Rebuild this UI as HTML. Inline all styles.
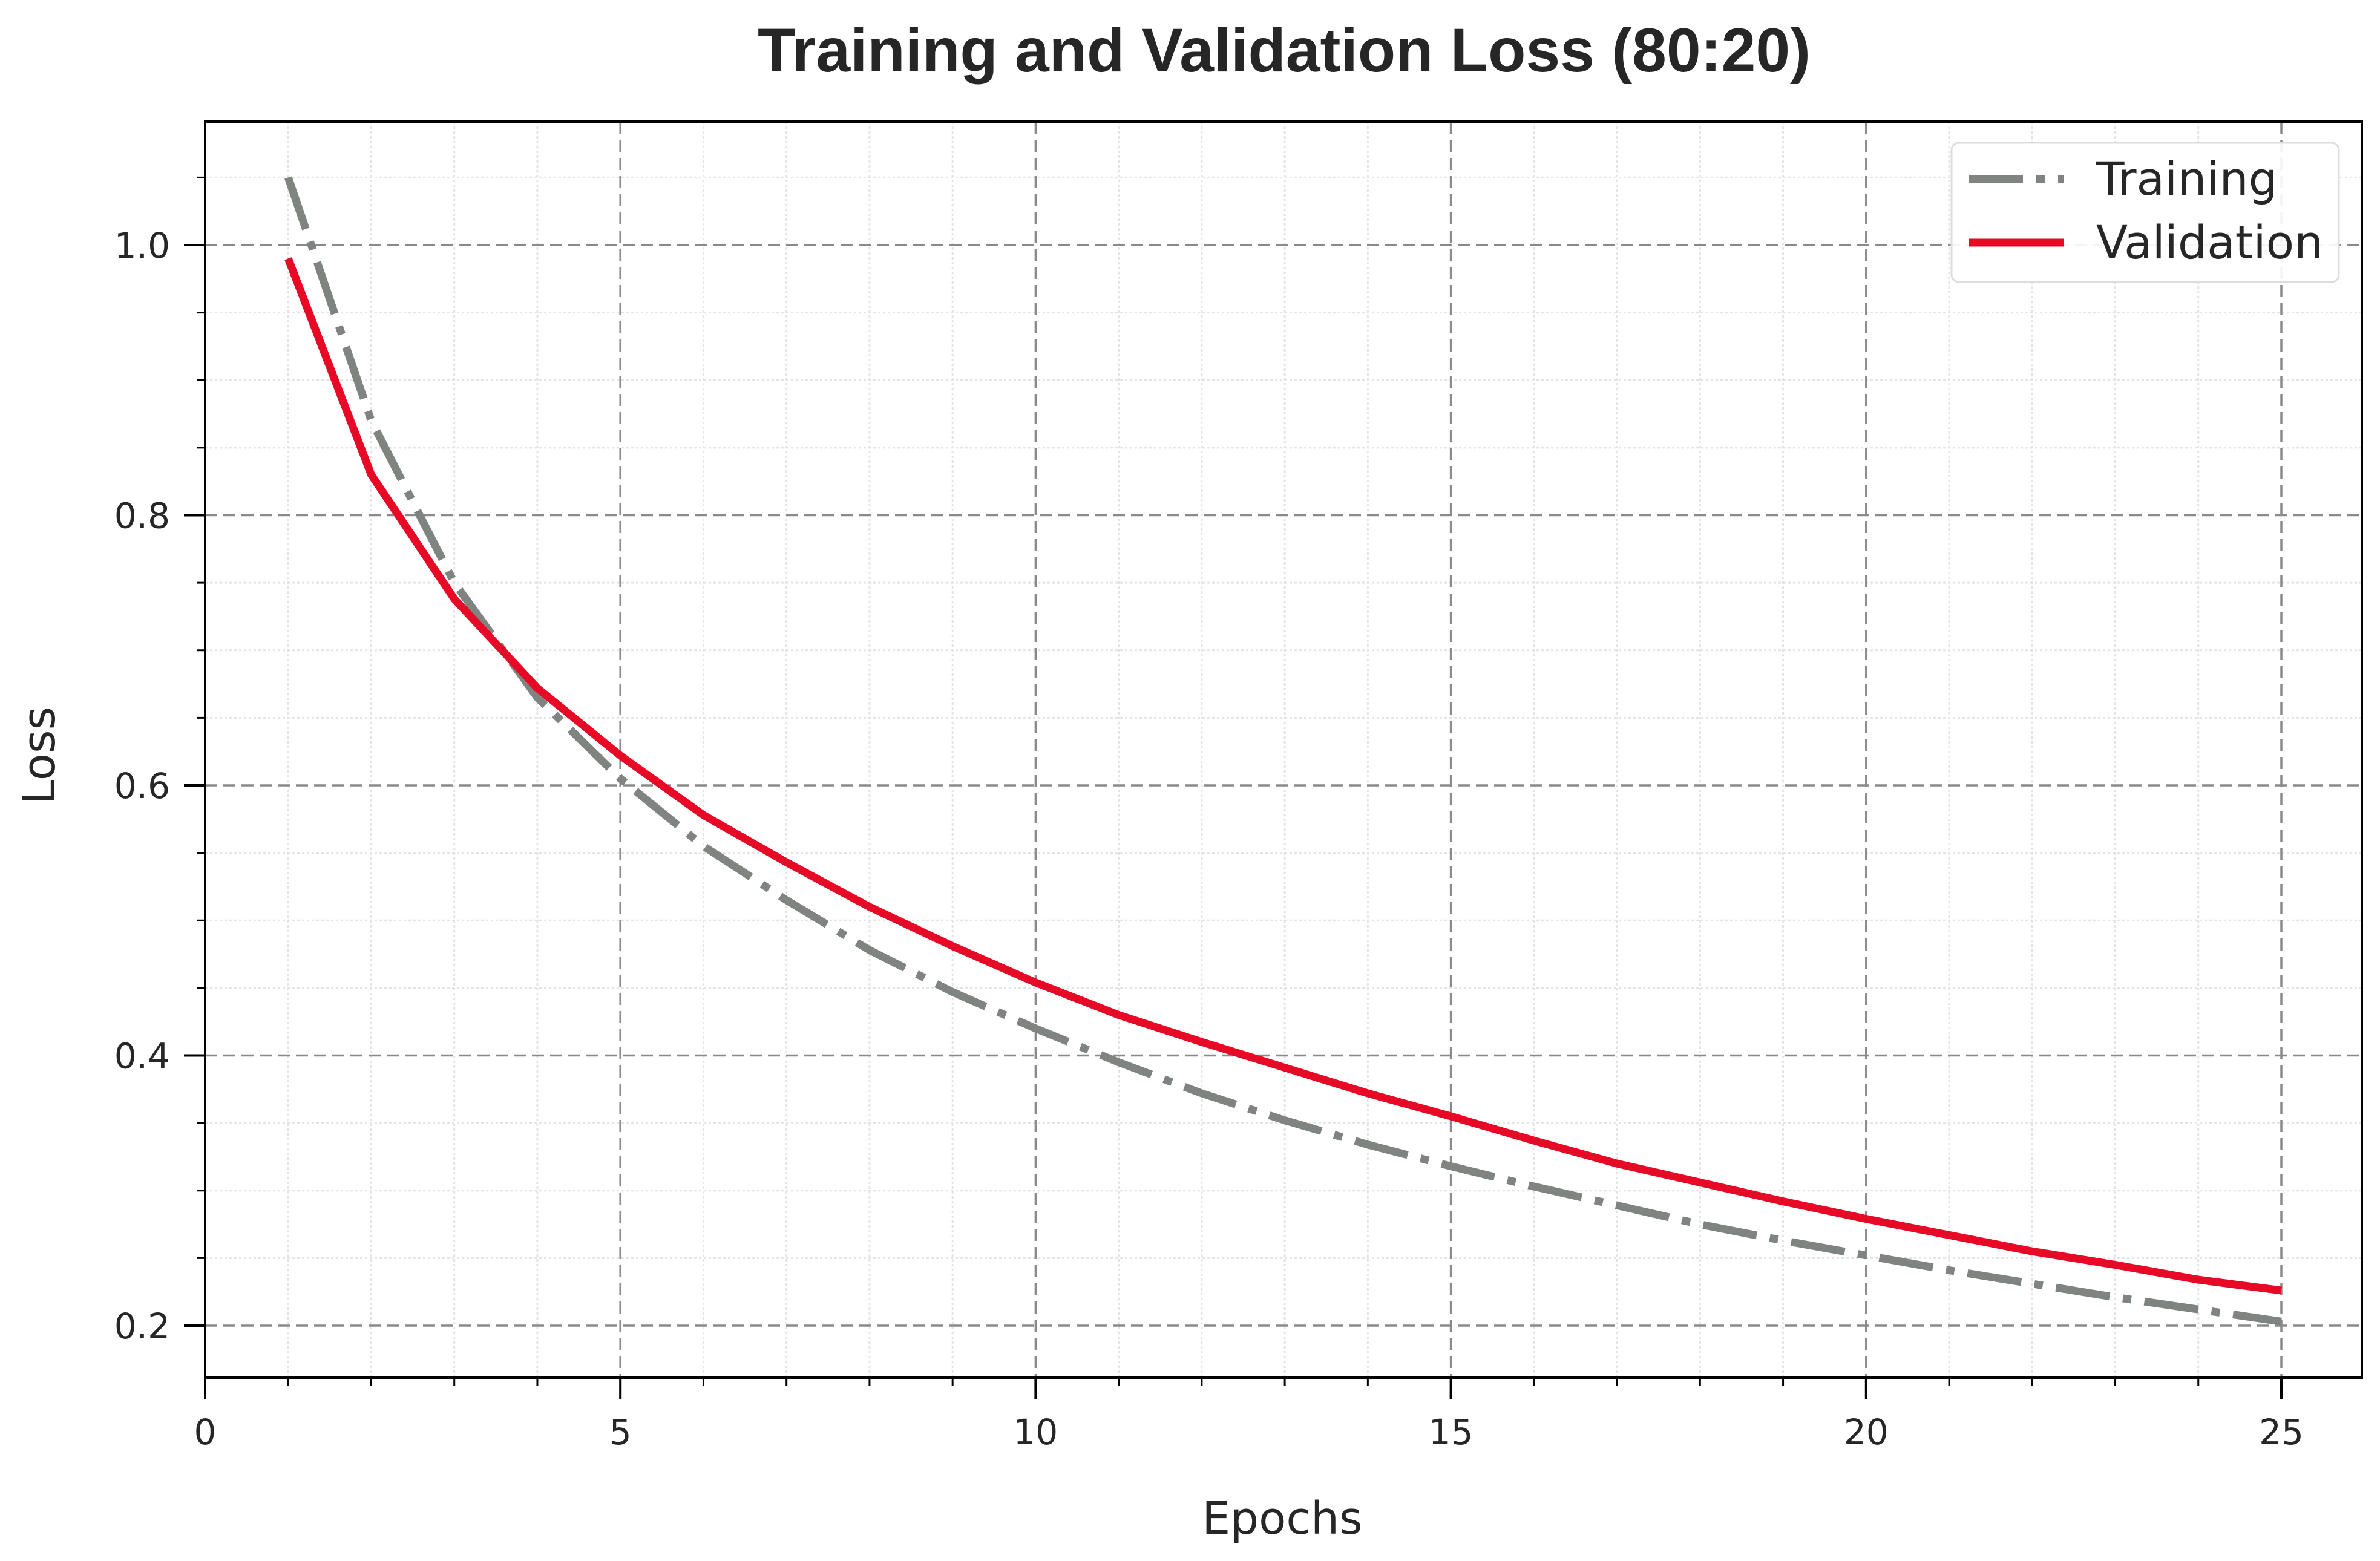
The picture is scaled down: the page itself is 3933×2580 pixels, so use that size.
<!DOCTYPE html>
<html><head><meta charset="utf-8"><style>
html,body{margin:0;padding:0;background:#fff;}
svg{display:block;font-family:"DejaVu Sans","Liberation Sans",sans-serif;}
</style></head><body>
<svg id="chart" width="3933" height="2580" viewBox="0 0 3933 2580" xmlns="http://www.w3.org/2000/svg">
<text x="2122" y="118" text-anchor="middle" font-family="Liberation Sans, sans-serif" font-weight="bold" font-size="102" fill="#262626">Training and Validation Loss (80:20)</text>
<g id="grid"></g><g id="axes"></g><g id="series"></g>
<text x="2119" y="2535" text-anchor="middle" font-size="74" fill="#262626">Epochs</text>
<text x="0" y="0" transform="translate(90,1249) rotate(-90)" text-anchor="middle" font-size="74" fill="#262626">Loss</text>
<g>
<rect x="3225" y="236" width="640" height="230" rx="12" fill="#fff" fill-opacity="0.9" stroke="#ddd" stroke-width="3"/>
<line x1="3253" y1="296" x2="3411" y2="296" stroke="#7f8480" stroke-width="13" stroke-dasharray="90 22 14 22"/>
<text x="3464" y="322" font-size="76" fill="#262626">Training</text>
<line x1="3253" y1="401" x2="3411" y2="401" stroke="#e60a26" stroke-width="13"/>
<text x="3464" y="427" font-size="76" fill="#262626">Validation</text>
</g>
</svg>
<script>
const epochs=[1,2,3,4,5,6,7,8,9,10,11,12,13,14,15,16,17,18,19,20,21,22,23,24,25];
const trainingLoss=[1.05,0.87,0.75,0.665,0.605,0.555,0.515,0.478,0.447,0.42,0.395,0.372,0.352,0.334,0.318,0.303,0.289,0.275,0.263,0.252,0.241,0.231,0.221,0.212,0.203];
const validationLoss=[0.99,0.83,0.738,0.672,0.622,0.578,0.543,0.51,0.481,0.454,0.43,0.41,0.391,0.372,0.355,0.337,0.32,0.306,0.292,0.279,0.267,0.255,0.245,0.234,0.226];
const xTicks=[0,5,10,15,20,25];
const yTicks=[0.2,0.4,0.6,0.8,1.0];
const yTickLabels=["0.2","0.4","0.6","0.8","1.0"];

const L=339,R=3903,T=201,B=2277;
const X=v=>339+v*(3770-339)/25;
const Y=v=>405+(1.0-v)*(2191-405)/0.8;
const NS="http://www.w3.org/2000/svg";
function mk(tag,attrs,parent){const e=document.createElementNS(NS,tag);for(const k in attrs)e.setAttribute(k,attrs[k]);parent.appendChild(e);return e;}
const grid=document.getElementById('grid'),axes=document.getElementById('axes'),series=document.getElementById('series');
for(let i=1;i<=26;i++){const x=X(i);if(x>=R)break;if(i%5===0)continue;
 const g=mk('line',{x1:x,y1:T,x2:x,y2:B,stroke:'#e4e4e4','stroke-width':3,'stroke-dasharray':'4 4'},grid);
 
 
 const t=mk('line',{x1:x,y1:B,x2:x,y2:B+14,stroke:'#000','stroke-width':3},axes);
 
 }
for(let k=3;k<=22;k++){const v=k*0.05;const y=Y(v);if(y<=T||y>=B)continue;if(k%4===0)continue;
 const g=mk('line',{x1:L,y1:y,x2:R,y2:y,stroke:'#e4e4e4','stroke-width':3,'stroke-dasharray':'4 4'},grid);
 
 
 const t=mk('line',{x1:L-14,y1:y,x2:L,y2:y,stroke:'#000','stroke-width':3},axes);
 
 }
xTicks.forEach(v=>{const x=X(v);
 if(v>0){const g=mk('line',{x1:x,y1:T,x2:x,y2:B,stroke:'#8a8a8a','stroke-width':3.5,'stroke-dasharray':'20 10'},grid);
 
 }
 const t=mk('line',{x1:x,y1:B,x2:x,y2:B+35,stroke:'#000','stroke-width':4},axes);
 
 
 const l=mk('text',{x:x,y:2387,'text-anchor':'middle','font-size':58,fill:'#262626'},axes);l.textContent=String(v);
 
 });
yTicks.forEach((v,i)=>{const y=Y(v);
 const g=mk('line',{x1:L,y1:y,x2:R,y2:y,stroke:'#8a8a8a','stroke-width':3.5,'stroke-dasharray':'20 10'},grid);
 
 
 const t=mk('line',{x1:L-35,y1:y,x2:L,y2:y,stroke:'#000','stroke-width':4},axes);
 
 
 const l=mk('text',{x:281,y:y+21,'text-anchor':'end','font-size':58,fill:'#262626'},axes);l.textContent=yTickLabels[i];
 
 });
const fr=mk('rect',{x:L,y:T,width:R-L,height:B-T,fill:'none',stroke:'#000','stroke-width':4},axes);


function pts(arr){return epochs.map((e,i)=>X(e)+','+Y(arr[i])).join(' ');}
const tl=mk('polyline',{points:pts(trainingLoss),fill:'none',stroke:'#7f8480','stroke-width':13,'stroke-dasharray':'90 22 14 22'},series);


const vl=mk('polyline',{points:pts(validationLoss),fill:'none',stroke:'#e60a26','stroke-width':13,'stroke-linejoin':'round'},series);


</script>
</body></html>
